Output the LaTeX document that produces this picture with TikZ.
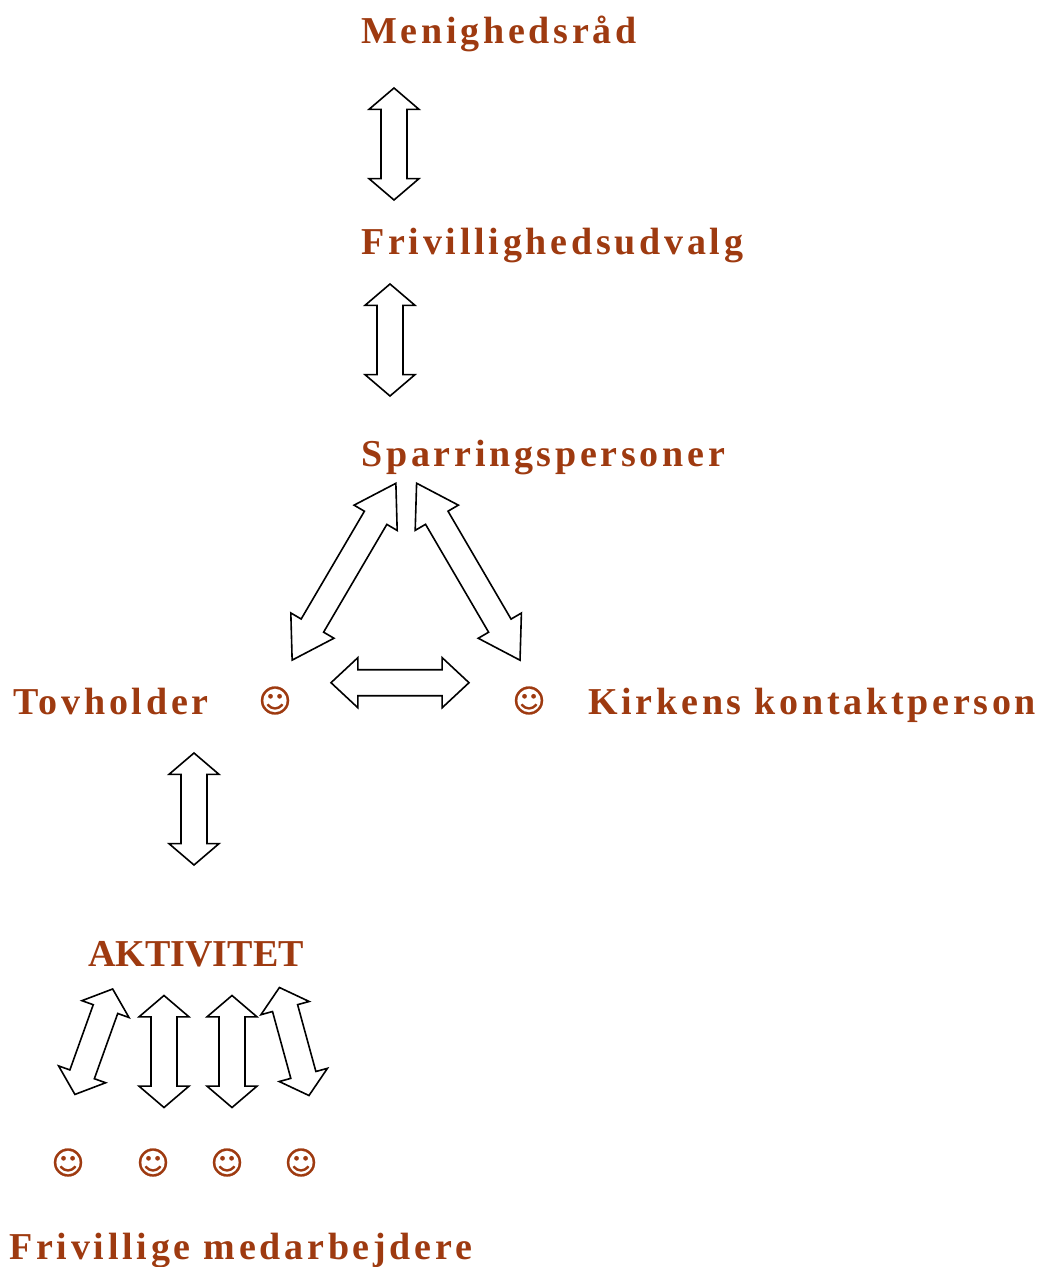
\documentclass[tikz,border=0pt]{standalone}
\usepackage{fontspec}
\usetikzlibrary{shapes.arrows, positioning}
\newfontfamily\labelfont[LetterSpace=9.8]{Liberation Serif}
\newfontfamily\capsfont[LetterSpace=0]{Liberation Serif}
\newfontfamily\smileyfont[FakeBold=0.7]{DejaVu Sans}
\definecolor{labelred}{HTML}{9E3A10}

\begin{document}
\begin{tikzpicture}[
x=0.5pt, y=-0.5pt,
labelnode/.style={font=\labelfont\fontsize{19}{23}\selectfont\bfseries, text=labelred, inner sep=0pt, anchor=base west},
capsnode/.style={labelnode, font=\capsfont\fontsize{19}{23}\selectfont\bfseries},
smileynode/.style={font=\smileyfont\fontsize{16}{19}\selectfont, text=labelred, inner sep=0pt},
blockarrow/.style={double arrow, draw=black, fill=white, line width=0.8pt, inner xsep=0pt, inner ysep=6.1pt, minimum width=24pt, minimum height=56pt, double arrow head extend=6pt, double arrow head indent=0pt, double arrow tip angle=99},
longarrow/.style={blockarrow, minimum height=102.5pt, double arrow tip angle=64}
]

\useasboundingbox (0,0) rectangle (1044,1267);

\node[labelnode] (label_raad) at (361,43.5) {Menighedsråd};
\node[labelnode] (label_udvalg) [below=105.5pt of label_raad.base west, anchor=base west] {Frivillighedsudvalg};
\node[labelnode] (label_sparring) [below=105.75pt of label_udvalg.base west, anchor=base west] {Sparringspersoner};
\node[labelnode] (label_tovholder) at (13,714) {Tovholder};
\node[labelnode] (label_kontakt) at (588,714) {Kirkens kontaktperson};
\node[capsnode] (label_aktivitet) at (88,966) {AKTIVITET};
\node[labelnode] (label_frivillige) at (9,1259) {Frivillige medarbejdere};

\node[smileynode] (smiley_tovholder) at (275,700.5) {☺};
\node[smileynode] (smiley_kontakt) [right=127pt of smiley_tovholder.center, anchor=center] {☺};
\node[smileynode] (smiley_a) at (68,1162.5) {☺};
\node[smileynode] (smiley_b) [right=42.5pt of smiley_a.center, anchor=center] {☺};
\node[smileynode] (smiley_c) [right=37pt of smiley_b.center, anchor=center] {☺};
\node[smileynode] (smiley_d) [right=37pt of smiley_c.center, anchor=center] {☺};

\node[blockarrow, rotate=90] (arrow_raad) at (394,144) {};
\node[blockarrow, rotate=90] (arrow_udvalg) at (390,340) {};
\node[blockarrow, rotate=90] (arrow_tovholder) at (194,809) {};
\node[blockarrow, rotate=90] (arrow_b) at (164,1051.5) {};
\node[blockarrow, rotate=90] (arrow_c) [right=34pt of arrow_b.center, anchor=center] {};
\node[blockarrow, rotate=70.3] (arrow_a) at (93.8,1041.7) {};
\node[blockarrow, rotate=105.3] (arrow_d) at (294.2,1041.5) {};

\node[longarrow, rotate=59.6] (arrow_left) at (344,571.7) {};
\node[longarrow, rotate=120.3] (arrow_right) at (468.3,571.7) {};
\node[blockarrow, minimum height=69pt, double arrow tip angle=86] (arrow_mid) at (400,682.7) {};

\end{tikzpicture}
\end{document}
